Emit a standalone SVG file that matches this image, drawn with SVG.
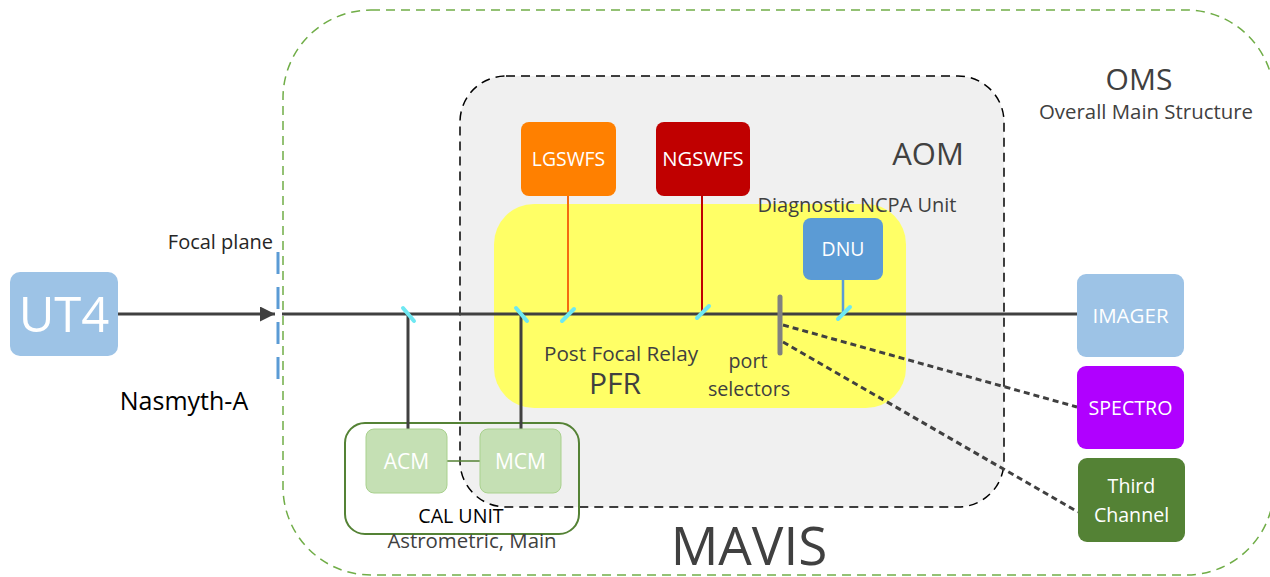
<svg xmlns="http://www.w3.org/2000/svg" width="1270" height="577" viewBox="0 0 1270 577">
<defs>
<style>
text{font-family:"Open Sans","Noto Sans","DejaVu Sans",sans-serif;}
.lbl{fill:#404040;}
.wt{fill:#ffffff;text-anchor:middle;}
.beam{stroke:#404040;stroke-width:3;fill:none;}
.mir{stroke:#6ee8f2;stroke-width:4;stroke-linecap:round;}
.dash{stroke:#404040;stroke-width:3;stroke-dasharray:6 4;fill:none;}
</style>
<marker id="arr" viewBox="0 0 10 10" refX="10" refY="5" markerWidth="5" markerHeight="5" orient="auto" markerUnits="strokeWidth">
<path d="M0,0 L10,5 L0,10 z" fill="#404040"/>
</marker>
</defs>
<rect width="1270" height="577" fill="#ffffff"/>

<g id="oms">
<rect x="283" y="10" width="991" height="565" rx="88" ry="88" fill="none" stroke="#70ad47" stroke-width="1.5" stroke-dasharray="9 6"/>
<text x="1139" y="90" font-size="30" class="lbl" text-anchor="middle">OMS</text>
<text x="1146" y="119" font-size="20.4" class="lbl" text-anchor="middle">Overall Main Structure</text>
<text x="749" y="565" font-size="53" class="lbl" text-anchor="middle">MAVIS</text>
</g>

<g id="aom">
<rect x="460" y="76" width="544" height="431" rx="46" ry="46" fill="#f0f0f0" stroke="#000000" stroke-width="1.5" stroke-dasharray="9 6"/>
<text x="928" y="165" font-size="31" class="lbl" text-anchor="middle">AOM</text>
</g>

<g id="pfr">
<rect x="494" y="204" width="412" height="204" rx="40" ry="40" fill="#ffff66"/>
<text x="621" y="361" font-size="20.7" class="lbl" text-anchor="middle">Post Focal Relay</text>
<text x="615" y="394" font-size="30" class="lbl" text-anchor="middle">PFR</text>
<text x="748" y="368" font-size="19.7" class="lbl" text-anchor="middle">port</text>
<text x="749" y="396" font-size="19.7" class="lbl" text-anchor="middle">selectors</text>
</g>

<g id="cal-unit">
<rect x="345" y="423" width="234" height="111" rx="20" ry="20" fill="none" stroke="#548235" stroke-width="2"/>
<text x="461" y="523" font-size="19.6" fill="#000000" text-anchor="middle">CAL UNIT</text>
<text x="472" y="548" font-size="20.4" class="lbl" text-anchor="middle">Astrometric, Main</text>
</g>

<g id="connectors">
<line x1="118" y1="314" x2="275" y2="314" class="beam" marker-end="url(#arr)"/>
<line x1="282" y1="314" x2="1077" y2="314" class="beam"/>
<line x1="408" y1="314" x2="408" y2="429" class="beam"/>
<line x1="521" y1="314" x2="521" y2="429" class="beam"/>
<line x1="447" y1="461" x2="480" y2="461" stroke="#548235" stroke-width="1.5"/>
<line x1="568" y1="196" x2="568" y2="312" stroke="#f46a10" stroke-width="2"/>
<line x1="702" y1="196" x2="702" y2="311" stroke="#c00000" stroke-width="2"/>
<line x1="843" y1="280" x2="843" y2="312" stroke="#5b9bd5" stroke-width="2.5"/>
<line x1="783" y1="325" x2="1077" y2="407" class="dash"/>
<line x1="783" y1="342" x2="1078" y2="512" class="dash"/>
<line x1="780" y1="297" x2="780" y2="353" stroke="#808080" stroke-width="5" stroke-linecap="round"/>
<line x1="403" y1="308" x2="414" y2="321" class="mir"/>
<line x1="516" y1="308" x2="527" y2="321" class="mir"/>
<line x1="562" y1="321" x2="574" y2="309" class="mir"/>
<line x1="697" y1="318" x2="709" y2="306" class="mir"/>
<line x1="838" y1="319" x2="850" y2="307" class="mir"/>
</g>

<g id="focal-plane">
<line x1="278" y1="252" x2="278" y2="382" stroke="#5b9bd5" stroke-width="3" stroke-dasharray="22 13"/>
<text x="273" y="249" font-size="20" fill="#262626" text-anchor="end">Focal plane</text>
</g>

<g id="ut4">
<rect x="10" y="272" width="108" height="84" rx="10" ry="10" fill="#9dc3e6"/>
<text x="64" y="332" font-size="49" class="wt">UT4</text>
<text x="184" y="410" font-size="25" fill="#000000" text-anchor="middle">Nasmyth-A</text>
</g>

<g id="lgswfs">
<rect x="521" y="122" width="95" height="74" rx="8" ry="8" fill="#ff8000"/>
<text x="568.5" y="166" font-size="19.4" class="wt">LGSWFS</text>
</g>

<g id="ngswfs">
<rect x="656" y="122" width="94" height="74" rx="8" ry="8" fill="#c00000"/>
<text x="703" y="166" font-size="20.3" class="wt">NGSWFS</text>
</g>

<g id="dnu">
<text x="857" y="212" font-size="20" class="lbl" text-anchor="middle">Diagnostic NCPA Unit</text>
<rect x="803" y="218" width="80" height="62" rx="8" ry="8" fill="#5b9bd5"/>
<text x="843" y="256" font-size="19.4" class="wt">DNU</text>
</g>

<g id="acm">
<rect x="366" y="429" width="81" height="64" rx="8" ry="8" fill="#c5e0b4" stroke="#a9d18e" stroke-width="1"/>
<text x="406.5" y="469" font-size="21" class="wt">ACM</text>
</g>

<g id="mcm">
<rect x="480" y="429" width="81" height="64" rx="8" ry="8" fill="#c5e0b4" stroke="#a9d18e" stroke-width="1"/>
<text x="520.5" y="469" font-size="21" class="wt">MCM</text>
</g>

<g id="imager">
<rect x="1077" y="274" width="107" height="83" rx="9" ry="9" fill="#9dc3e6"/>
<text x="1130.5" y="323" font-size="20.5" class="wt">IMAGER</text>
</g>

<g id="spectro">
<rect x="1077" y="366" width="107" height="83" rx="9" ry="9" fill="#b000ff"/>
<text x="1130.5" y="415" font-size="19.6" class="wt">SPECTRO</text>
</g>

<g id="third-channel">
<rect x="1078" y="458" width="107" height="84" rx="9" ry="9" fill="#548235"/>
<text x="1131.5" y="493" font-size="19.6" class="wt">Third</text>
<text x="1131.5" y="522" font-size="19.6" class="wt">Channel</text>
</g>
</svg>
